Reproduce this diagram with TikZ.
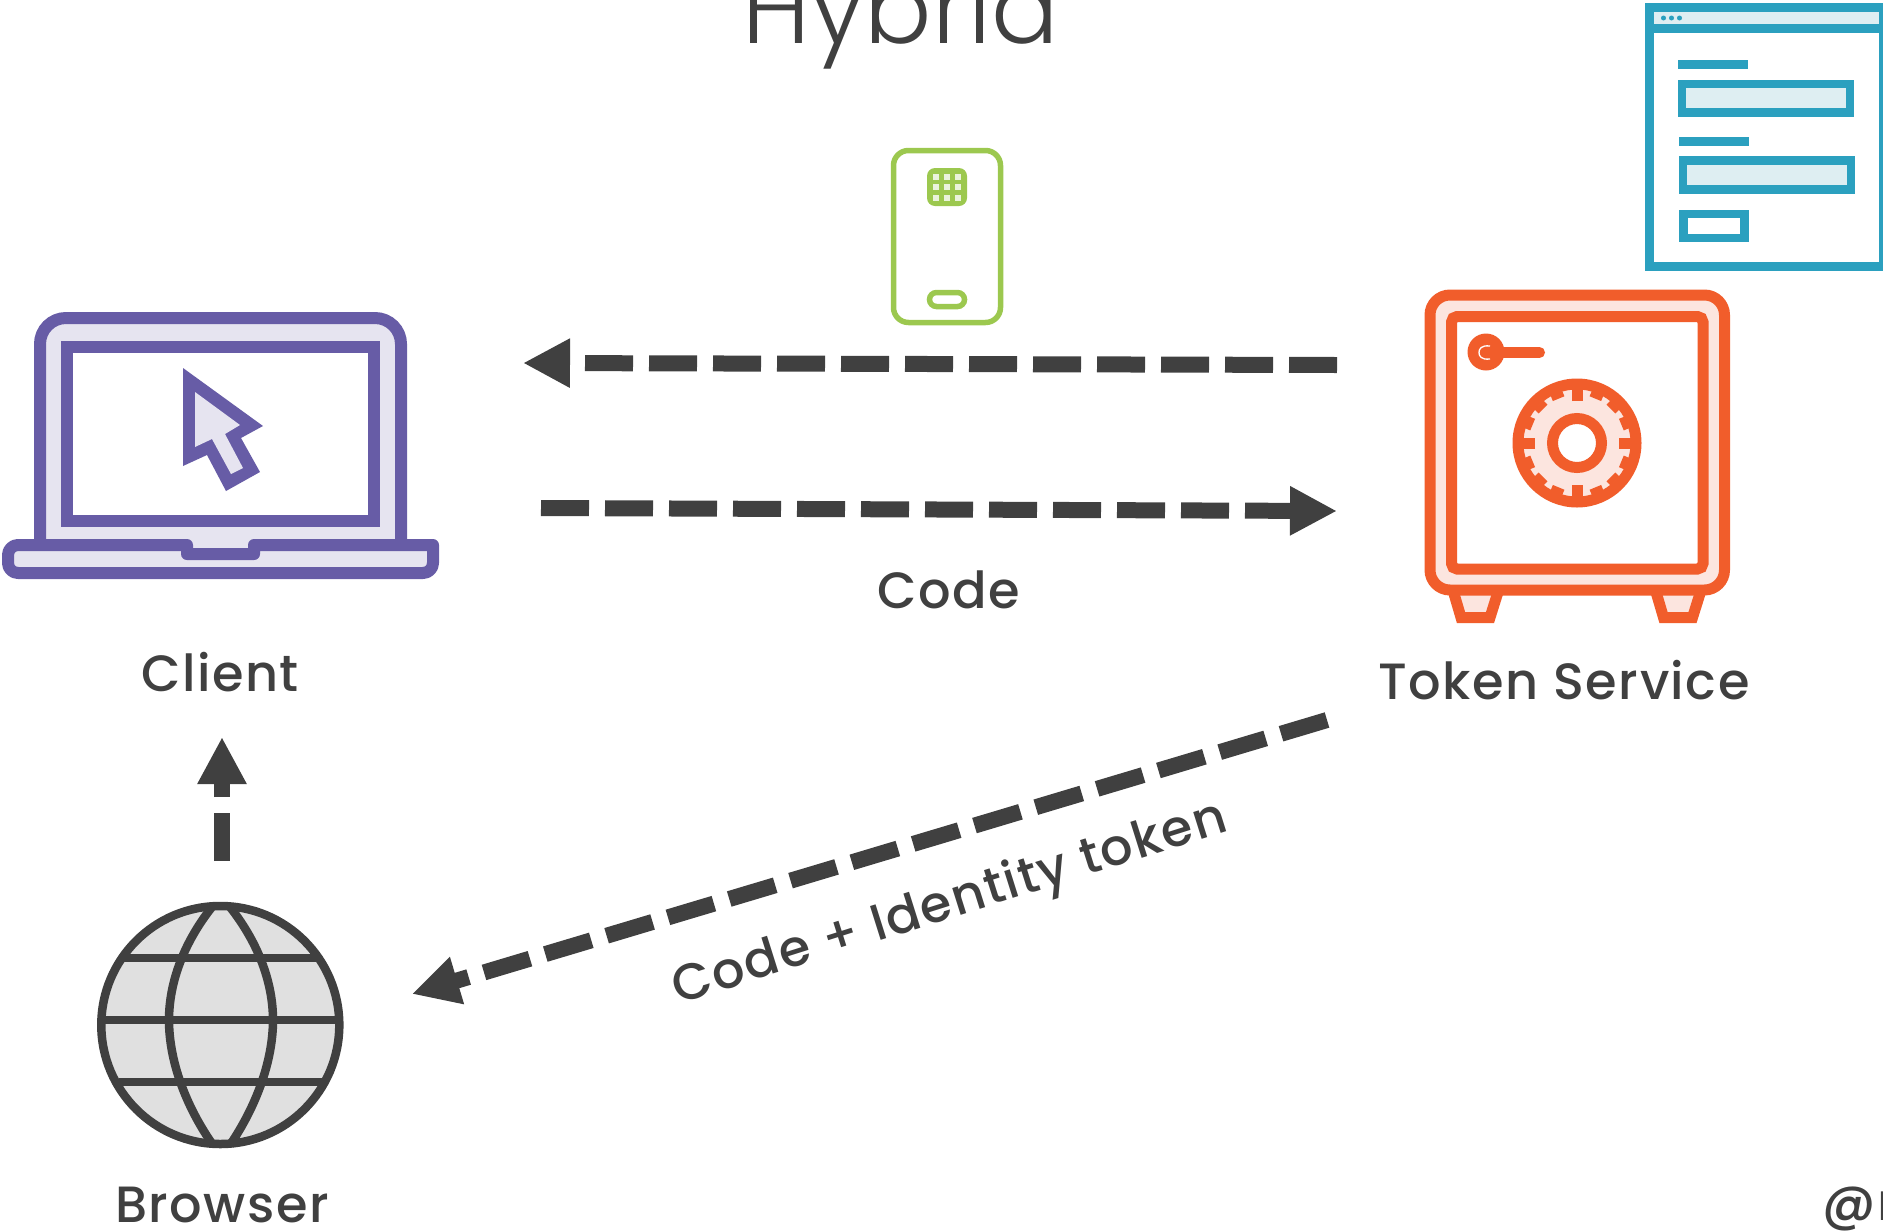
\documentclass[tikz,border=0pt]{standalone}
\usepackage{fontspec}
\setmainfont{Poppins Medium}[LetterSpace=3]
\newfontfamily\thinfont{Poppins Light}
\usetikzlibrary{arrows.meta}
\definecolor{ink}{HTML}{404040}
\definecolor{purple}{HTML}{675CA6}
\definecolor{purplepale}{HTML}{E6E4F0}
\definecolor{rust}{HTML}{F15D2B}
\definecolor{rustpale}{HTML}{FCE5DF}
\definecolor{teal}{HTML}{2BA0BF}
\definecolor{tealpale}{HTML}{DEEEF2}
\definecolor{leaf}{HTML}{9CC84F}
\definecolor{leafpale}{HTML}{EAF3DC}
\definecolor{globegray}{HTML}{E0E0E0}
\begin{document}
\begin{tikzpicture}[x=1pt, y=-1pt,
      dashy/.style={line width=16pt, draw=ink, dash pattern=on 48pt off 16pt,
        -{Triangle[length=47pt, width=46pt]}},
      caption/.style={text=ink, font=\fontsize{51}{51}\selectfont, inner sep=0pt},
      laptop/.style={line width=12pt, draw=purple, fill=purplepale},
      safe/.style={line width=11pt, draw=rust, fill=rustpale},
      form/.style={line width=8.5pt, draw=teal, fill=tealpale},
      phone/.style={line width=5.5pt, draw=leaf},
      globe/.style={line width=8.5pt, draw=ink}]

      \useasboundingbox (0,0) rectangle (1883,1232);
      \clip (0,0) rectangle (1883,1232);

      % Title
      \node [anchor=base west, inner sep=0pt, text=ink,
      font=\fontsize{100}{100}\thinfont] (title) at (742,43) {Hybrid};

      % Form window
      \fill [teal] (1645,3) rectangle (1890,271);
      \fill [tealpale] (1654,12) rectangle (1879,24);
      \fill [white] (1654,33) rectangle (1879,262);
      \foreach \dotx in {1663.5,1671.5,1679.5}
        \fill [teal] (\dotx,18) circle [radius=2.5];
      \fill [teal] (1678,60) rectangle (1748,69);
      \draw [form] (1682,84) rectangle (1850,112.5);
      \fill [teal] (1679,137) rectangle (1749,146);
      \draw [form] (1683,160.5) rectangle (1851,189.5);
      \draw [form, fill=white] (1683.5,214) rectangle (1744.5,238);

      % Phone
      \draw [phone, rounded corners=15pt] (893.5,150.5) rectangle (1000.5,322.5);
      \fill [leaf, rounded corners=8pt] (927,168) rectangle (967,206);
      \foreach \padx in {936,947,958}
        \foreach \pady in {177,187,198}
          \fill [leafpale] (\padx-3,\pady-3) rectangle (\padx+3,\pady+3);
      \draw [phone, rounded corners=7pt] (929.5,292.5) rectangle (964.5,306.5);

      % Laptop
      \draw [laptop, rounded corners=26pt] (40,556) -- (40,318) -- (401,318) -- (401,556);
      \draw [laptop, fill=white] (67,347) rectangle (374,521);
      \fill [purple] (183,368) -- (263,426) -- (241,438) -- (260,472) -- (226,491)
      -- (207,455) -- (183,466) -- cycle;
      \fill [purplepale] (195,392) -- (240,425) -- (225,434) -- (243,468) -- (231,474)
      -- (212,439) -- (195,447) -- cycle;
      \draw [laptop, line join=round] (8,545) -- (187,545) -- (187,554) -- (254,554)
      -- (254,545) -- (433,545) [rounded corners=10pt] -- (433,573) -- (8,573) -- cycle;

      % Safe
      \foreach \footx in {0,202.5}
        \draw [safe] (1453.5+\footx,592) -- (1461+\footx,617.5) -- (1490+\footx,617.5)
        -- (1498+\footx,592);
      \draw [safe, rounded corners=20pt] (1430,295) rectangle (1724.5,590);
      \draw [safe, fill=white, rounded corners=5.5pt] (1451.5,316.5) rectangle (1703,569);
      \fill [rust] (1486,352) circle [radius=18.5];
      \draw [line width=11pt, draw=rust, line cap=round] (1486,352.5) -- (1539.5,352.5);
      \draw [line width=1.3pt, draw=white] (1490,346) .. controls (1481,345) and (1479,349)
      .. (1479,352.5) .. controls (1479,356) and (1481,360) .. (1490,359);
      \coordinate (dial) at (1577,443);
      \draw [safe] (dial) circle [radius=59];
      \foreach \tick in {0,90,180,270}
        \draw [line width=11pt, draw=rust] ([shift={(\tick:42)}]dial)
        -- ([shift={(\tick:54)}]dial);
      \foreach \tick in {22.5,45,67.5,112.5,135,157.5,202.5,225,247.5,292.5,315,337.5}
        \draw [line width=12.5pt, draw=rust] ([shift={(\tick:48)}]dial)
        -- ([shift={(\tick:54)}]dial);
      \draw [safe, fill=white] (dial) circle [radius=24.5];

      % Globe
      \coordinate (earth) at (220.3,1025);
      \fill [globegray] (earth) circle [radius=119];
      \draw [globe] (123,958) -- (317,958);
      \draw [globe] (103,1020) -- (338,1020);
      \draw [globe] (119,1082) -- (322,1082);
      \draw [globe] (212,907) .. controls (182,945) and (169,985) .. (169,1020)
      .. controls (169,1060) and (185,1105) .. (213,1145);
      \draw [globe] (230,907) .. controls (260,945) and (273,985) .. (273,1020)
      .. controls (273,1060) and (257,1105) .. (230,1145);
      \draw [globe] (earth) circle [radius=119];

      % Labels
      \node [caption] (client) at (220,672) {Client};
      \node [caption] (token) at (1564,680) {Token Service};
      \node [caption] (browser) at (222,1205) {Browser};
      \node [caption] (code) at (949,590) {Code};
      \node [caption, rotate=17.5] (idtoken) at (950,905) {Code + Identity token};
      \node [anchor=base west, inner sep=0pt, text=ink,
      font=\fontsize{52}{52}\selectfont] (handle) at (1822,1220) {@r};

      % Arrows
      \coordinate (backfrom) at (1337,365);
      \coordinate (backto) at (523,363);
      \coordinate (codefrom) at (541,508);
      \coordinate (codeto) at (1337,511);
      \coordinate (idfrom) at (1327,720);
      \coordinate (idto) at (412,994);
      \coordinate (upfrom) at (222,861);
      \coordinate (upto) at (222,737);
      \draw [dashy] (backfrom) -- (backto);
      \draw [dashy] (codefrom) -- (codeto);
      \draw [dashy] (idfrom) -- (idto);
      \draw [dashy] (upfrom) -- (upto);
    \end{tikzpicture}
\end{document}
